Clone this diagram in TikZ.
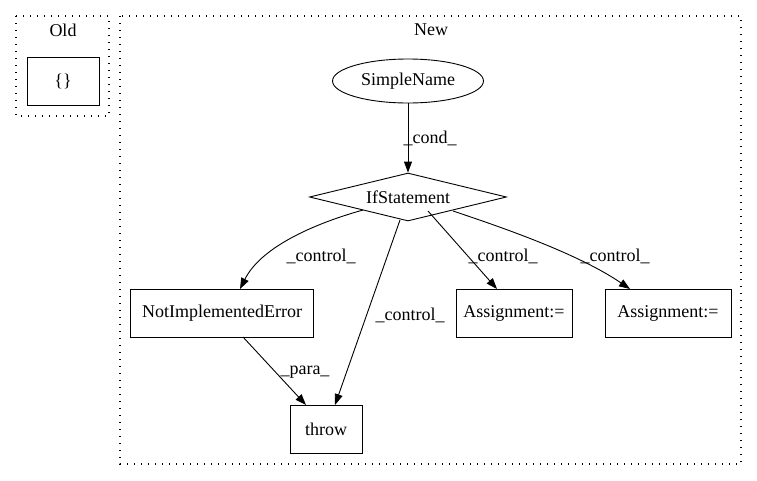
\documentclass[tikz,border=0pt]{standalone}
\usepackage{fontspec}
\setmainfont{Liberation Serif}
\usetikzlibrary{arrows.meta,shapes.geometric}
\begin{document}
\begin{tikzpicture}[x=1pt,y=-1pt,
  every node/.style={font=\fontsize{18}{21}\selectfont, inner sep=0pt},
  boxnode/.style={draw, line width=0.9pt, rectangle},
  cluster/.style={draw, line width=1.3pt, dash pattern=on 1.3pt off 5.7pt},
  edge/.style={draw, line width=0.9pt, -{Triangle[length=11pt,width=8pt]}},
  elabel/.style={font=\fontsize{18}{21}\selectfont}
]
\useasboundingbox (0,0) rectangle (757,480);
% clusters
\draw[cluster] (16,16) rectangle (109,116);
\node (oldlbl) at (63,30) {Old};
\draw[cluster] (120,16) rectangle (741,464);
\node (newlbl) at (431,30) {New};
% nodes
\node[boxnode, minimum width=72pt, minimum height=48pt] (empty) at (63,81) {\{\}};
\node[draw, line width=0.9pt, ellipse, minimum width=151pt, minimum height=44pt] (simple) at (408,81) {SimpleName};
\node[draw, line width=0.9pt, diamond, aspect=4.1, minimum width=197pt, minimum height=48pt] (ifs) at (408,197) {IfStatement};
\node[boxnode, minimum width=183pt, minimum height=48pt] (nie) at (222,313) {NotImplementedError};
\node[boxnode, minimum width=72pt, minimum height=48pt] (throw) at (326,429) {throw};
\node[boxnode, minimum width=116pt, minimum height=48pt] (as1) at (514,313) {Assignment:=};
\node[boxnode, minimum width=126pt, minimum height=48pt] (as2) at (668,313) {Assignment:=};
% edges
\draw[edge] (simple.south) -- (ifs.north);
\node[elabel] (l1) at (430,138) {\_cond\_};
\coordinate (c1s) at (363,210);
\coordinate (c1e) at (240,289);
\draw[edge] (c1s) .. controls (320,222) and (262,245) .. (c1e);
\node[elabel] (l2) at (321,256) {\_control\_};
\coordinate (c2s) at (400,220);
\coordinate (c2e) at (335,405);
\draw[edge] (c2s) -- (c2e);
\node[elabel] (l3) at (410,315) {\_control\_};
\coordinate (c3s) at (428,211);
\coordinate (c3e) at (497,289);
\draw[edge] (c3s) -- (c3e);
\node[elabel] (l4) at (503,256) {\_control\_};
\coordinate (c4s) at (453,211);
\coordinate (c4e) at (630,289);
\draw[edge] (c4s) .. controls (510,230) and (580,255) .. (c4e);
\node[elabel] (l5) at (615,256) {\_control\_};
\coordinate (c5s) at (243,337);
\coordinate (c5e) at (306,405);
\draw[edge] (c5s) -- (c5e);
\node[elabel] (l6) at (305,372) {\_para\_};
\end{tikzpicture}
\end{document}
